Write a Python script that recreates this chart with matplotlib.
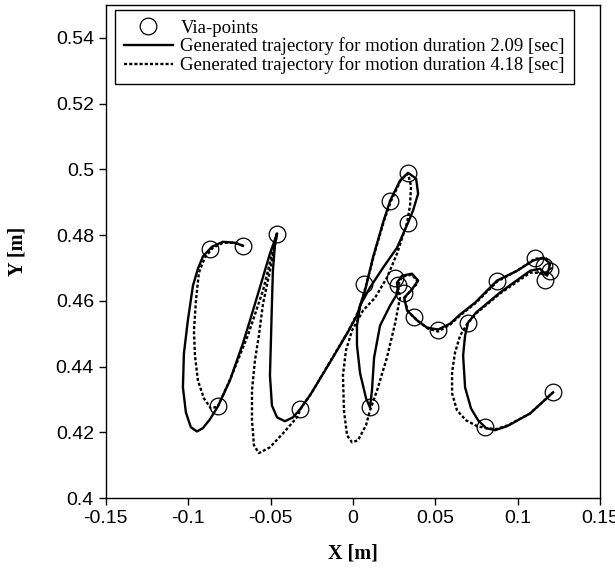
import matplotlib
matplotlib.use('Agg')
import matplotlib.pyplot as plt
from matplotlib.ticker import FuncFormatter

# via-points [m]
via_x = [-0.0668, -0.0868, -0.0461, -0.0820, -0.0322, 0.0225, 0.0334, 0.0334,
         0.0067, 0.0255, 0.0273, 0.0310, 0.0370, 0.0516, 0.0698, 0.0874,
         0.1105, 0.1160, 0.1196, 0.1166, 0.1214, 0.0801, 0.0103]
via_y = [0.4768, 0.4759, 0.4805, 0.4279, 0.4270, 0.4905, 0.4990, 0.4838,
         0.4653, 0.4671, 0.4650, 0.4623, 0.4550, 0.4513, 0.4534, 0.4662,
         0.4732, 0.4705, 0.4692, 0.4665, 0.4322, 0.4216, 0.4276]

# trajectory, motion duration 2.09 sec
fast_x = [-0.0668, -0.0716, -0.0789, -0.0856, -0.0911, -0.0941, -0.0971, -0.1002,
          -0.1026, -0.1032, -0.1014, -0.0984, -0.0947, -0.0911, -0.0868, -0.0820,
          -0.0747, -0.0668, -0.0625, -0.0565, -0.0504, -0.0461, -0.0474, -0.0486,
          -0.0492, -0.0498, -0.0504, -0.0492, -0.0461, -0.0413, -0.0364, -0.0322,
          -0.0261, -0.0140, -0.0036, 0.0024, 0.0073, 0.0121, 0.0182, 0.0225,
          0.0285, 0.0334, 0.0383, 0.0395, 0.0364, 0.0334, 0.0267, 0.0182,
          0.0103, 0.0043, 0.0024, 0.0024, 0.0043, 0.0079, 0.0103, 0.0115,
          0.0128, 0.0164, 0.0225, 0.0273, 0.0267, 0.0298, 0.0358, 0.0395,
          0.0352, 0.0310, 0.0328, 0.0389, 0.0449, 0.0516, 0.0589, 0.0650,
          0.0741, 0.0874, 0.0996, 0.1093, 0.1154, 0.1196, 0.1178, 0.1135,
          0.1075, 0.0893, 0.0747, 0.0698, 0.0680, 0.0668, 0.0680, 0.0716,
          0.0759, 0.0808, 0.0862, 0.0935, 0.1075, 0.1214]
fast_y = [0.4768, 0.4777, 0.4780, 0.4765, 0.4735, 0.4698, 0.4647, 0.4541,
          0.4440, 0.4337, 0.4261, 0.4216, 0.4203, 0.4213, 0.4240, 0.4279,
          0.4358, 0.4471, 0.4541, 0.4641, 0.4744, 0.4805, 0.4768, 0.4692,
          0.4592, 0.4480, 0.4374, 0.4282, 0.4246, 0.4234, 0.4246, 0.4270,
          0.4313, 0.4413, 0.4501, 0.4556, 0.4632, 0.4732, 0.4838, 0.4905,
          0.4966, 0.4990, 0.4972, 0.4926, 0.4875, 0.4838, 0.4762, 0.4701,
          0.4641, 0.4586, 0.4525, 0.4465, 0.4380, 0.4304, 0.4276, 0.4328,
          0.4428, 0.4525, 0.4586, 0.4626, 0.4656, 0.4677, 0.4683, 0.4662,
          0.4632, 0.4610, 0.4571, 0.4541, 0.4519, 0.4513, 0.4531, 0.4559,
          0.4595, 0.4662, 0.4692, 0.4723, 0.4732, 0.4714, 0.4677, 0.4698,
          0.4692, 0.4626, 0.4565, 0.4534, 0.4495, 0.4434, 0.4337, 0.4273,
          0.4237, 0.4213, 0.4207, 0.4219, 0.4258, 0.4322]

# trajectory, motion duration 4.18 sec
slow_x = [-0.0668, -0.0716, -0.0789, -0.0850, -0.0899, -0.0935, -0.0953, -0.0965,
          -0.0959, -0.0941, -0.0905, -0.0862, -0.0820, -0.0741, -0.0638, -0.0546,
          -0.0486, -0.0461, -0.0486, -0.0510, -0.0546, -0.0571, -0.0595, -0.0613,
          -0.0613, -0.0601, -0.0571, -0.0504, -0.0425, -0.0340, -0.0316, -0.0249,
          -0.0128, -0.0030, 0.0036, 0.0079, 0.0128, 0.0188, 0.0231, 0.0291,
          0.0334, 0.0352, 0.0346, 0.0328, 0.0267, 0.0206, 0.0134, 0.0061,
          -0.0006, -0.0043, -0.0061, -0.0055, -0.0036, -0.0006, 0.0030, 0.0079,
          0.0103, 0.0146, 0.0206, 0.0255, 0.0285, 0.0273, 0.0298, 0.0358,
          0.0395, 0.0346, 0.0310, 0.0334, 0.0395, 0.0455, 0.0516, 0.0589,
          0.0650, 0.0747, 0.0874, 0.0996, 0.1105, 0.1172, 0.1202, 0.1172,
          0.1075, 0.0893, 0.0747, 0.0698, 0.0650, 0.0619, 0.0601, 0.0601,
          0.0631, 0.0686, 0.0753, 0.0808, 0.0868, 0.0941, 0.1075, 0.1214]
slow_y = [0.4768, 0.4777, 0.4777, 0.4762, 0.4732, 0.4686, 0.4601, 0.4510,
          0.4434, 0.4358, 0.4304, 0.4273, 0.4279, 0.4367, 0.4495, 0.4632,
          0.4753, 0.4805, 0.4738, 0.4677, 0.4592, 0.4495, 0.4419, 0.4328,
          0.4237, 0.4161, 0.4137, 0.4155, 0.4197, 0.4246, 0.4273, 0.4322,
          0.4425, 0.4507, 0.4571, 0.4647, 0.4741, 0.4844, 0.4905, 0.4969,
          0.4987, 0.4950, 0.4890, 0.4838, 0.4744, 0.4671, 0.4610, 0.4571,
          0.4510, 0.4449, 0.4374, 0.4267, 0.4191, 0.4170, 0.4176, 0.4222,
          0.4267, 0.4328, 0.4428, 0.4531, 0.4610, 0.4647, 0.4674, 0.4680,
          0.4656, 0.4629, 0.4607, 0.4568, 0.4538, 0.4516, 0.4507, 0.4528,
          0.4556, 0.4595, 0.4659, 0.4692, 0.4729, 0.4729, 0.4701, 0.4686,
          0.4686, 0.4623, 0.4562, 0.4534, 0.4495, 0.4443, 0.4383, 0.4319,
          0.4267, 0.4237, 0.4219, 0.4213, 0.4210, 0.4222, 0.4258, 0.4322]

x_ticks = [-0.15, -0.1, -0.05, 0, 0.05, 0.1, 0.15]
y_ticks = [0.4, 0.42, 0.44, 0.46, 0.48, 0.5, 0.52, 0.54]


def main():
    fig = plt.figure(figsize=(6.15, 5.70), dpi=100)
    ax = fig.add_axes([0.172, 0.126, 0.804, 0.865])

    ax.plot(via_x, via_y, 'o', markersize=12, markerfacecolor='none',
            markeredgecolor='black', markeredgewidth=0.9, label='Via-points')
    ax.plot(fast_x, fast_y, '-', color='black', linewidth=1.7,
            label='Generated trajectory for motion duration 2.09 [sec]')
    ax.plot(slow_x, slow_y, color='black', linewidth=1.7,
            linestyle=(0, (1.3, 0.9)),
            label='Generated trajectory for motion duration 4.18 [sec]')

    ax.set_xlim(-0.15, 0.15)
    ax.set_ylim(0.4, 0.55)
    ax.set_xticks(x_ticks)
    ax.set_yticks(y_ticks)
    fmt = FuncFormatter(lambda v, p: '%g' % round(v, 4))
    ax.xaxis.set_major_formatter(fmt)
    ax.yaxis.set_major_formatter(fmt)
    ax.tick_params(direction='out', length=5, width=1, labelsize=14)
    for lab in ax.get_xticklabels() + ax.get_yticklabels():
        lab.set_family('Liberation Sans')
    for sp in ax.spines.values():
        sp.set_linewidth(1.0)

    ax.set_xlabel('X [m]', family='Liberation Serif', fontweight='bold',
                  fontsize=14.5, labelpad=12)
    ax.set_ylabel('Y [m]', family='Liberation Serif', fontweight='bold',
                  fontsize=14.5, labelpad=20)

    leg = ax.legend(loc='upper left', bbox_to_anchor=(0.018, 0.99),
                    numpoints=1, fancybox=False,
                    prop={'family': 'Liberation Serif', 'size': 13.5},
                    handlelength=2.6, handletextpad=0.4, labelspacing=0.05,
                    borderpad=0.5, borderaxespad=0.0, framealpha=1)
    leg.get_frame().set_edgecolor('black')
    leg.get_frame().set_linewidth(1.0)

    fig.savefig('out.png', dpi=100)


if __name__ == '__main__':
    main()
